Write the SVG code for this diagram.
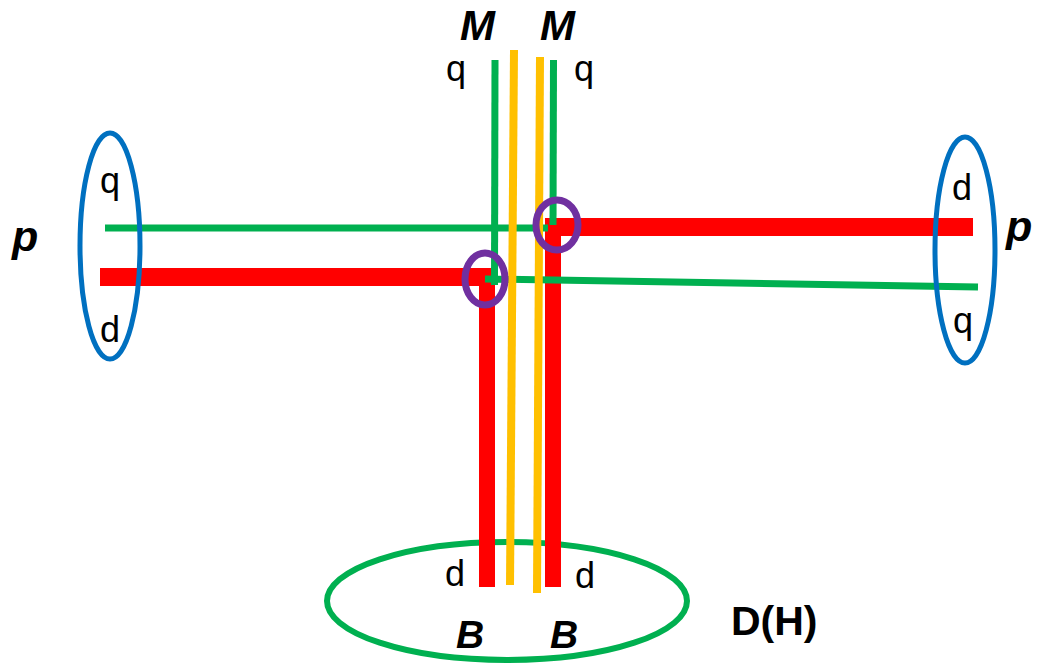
<svg xmlns="http://www.w3.org/2000/svg" width="1051" height="670" viewBox="0 0 1051 670">
<style>
.lbl{font-family:"Liberation Sans",Arial,sans-serif;font-size:36px;fill:#000}
.bi{font-family:"Liberation Sans",Arial,sans-serif;font-weight:bold;font-style:italic;fill:#000}
.blue{fill:none;stroke:#0070C0;stroke-width:5}
.red{stroke:#FF0000;fill:none}
.grn{stroke:#00B050;fill:none;stroke-width:7}
.org{stroke:#FFC000;fill:none;stroke-width:8}
.pur{fill:none;stroke:#7030A0;stroke-width:7}
</style>
<rect width="1051" height="670" fill="#fff"/>
<g id="node-bottom">
<ellipse cx="507" cy="601" rx="180" ry="59" fill="none" stroke="#00B050" stroke-width="6"/>
<text class="bi" x="456" y="648" font-size="39">B</text>
<text class="bi" x="550" y="648" font-size="39">B</text>
<text x="731" y="635" font-family="'Liberation Sans',Arial,sans-serif" font-weight="bold" font-size="41">D(H)</text>
</g>
<g id="connectors">
<line class="red" x1="100" y1="277" x2="493" y2="277" stroke-width="18"/>
<line class="red" x1="487" y1="268" x2="487" y2="587" stroke-width="16"/>
<line class="red" x1="545" y1="227" x2="973" y2="227" stroke-width="18"/>
<line class="red" x1="553" y1="218" x2="553" y2="587" stroke-width="16"/>
<line class="grn" x1="105" y1="228" x2="548" y2="228" stroke-width="8"/>
<line class="grn" x1="485" y1="279" x2="978" y2="287"/>
<line class="grn" x1="495" y1="60" x2="494.5" y2="285"/>
<line class="grn" x1="553.5" y1="60" x2="553" y2="225"/>
<line class="org" x1="514" y1="50" x2="510" y2="585"/>
<line class="org" x1="540" y1="57" x2="537" y2="593"/>
</g>
<g id="node-left">
<ellipse class="blue" cx="110" cy="246" rx="30" ry="113"/>
<text class="lbl" x="100" y="193">q</text>
<text class="lbl" x="100" y="342">d</text>
<text class="bi" x="12" y="251" font-size="43">p</text>
</g>
<g id="node-right">
<ellipse class="blue" cx="965" cy="250" rx="30" ry="113"/>
<text class="lbl" x="952" y="200">d</text>
<text class="lbl" x="953" y="333">q</text>
<text class="bi" x="1006" y="241" font-size="43">p</text>
</g>
<g id="node-top">
<text class="bi" x="460" y="40" font-size="42">M</text>
<text class="bi" x="540" y="40" font-size="42">M</text>
<text class="lbl" x="446" y="81">q</text>
<text class="lbl" x="574" y="81">q</text>
</g>
<g id="node-bottom-labels">
<text class="lbl" x="445" y="586">d</text>
<text class="lbl" x="575" y="588">d</text>
</g>
<g id="junctions">
<ellipse class="pur" cx="485" cy="279" rx="20" ry="26"/>
<ellipse class="pur" cx="557" cy="225" rx="21" ry="25"/>
</g>
</svg>
